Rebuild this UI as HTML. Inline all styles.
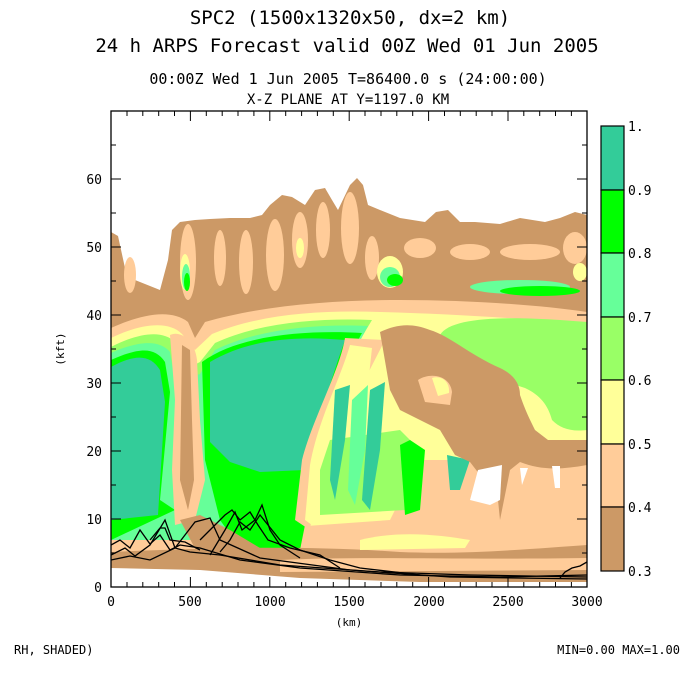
<!DOCTYPE html>
<html><head><meta charset="utf-8"><style>
body{margin:0;background:#fff;width:700px;height:700px;overflow:hidden}
svg{display:block}
text{font-family:"DejaVu Sans Mono","Liberation Mono",monospace;fill:#000}
</style></head><body>
<svg width="700" height="700" viewBox="0 0 700 700" xmlns="http://www.w3.org/2000/svg">
<defs><clipPath id="pc"><rect x="111" y="111" width="476" height="476"/></clipPath></defs>
<text x="350" y="24" font-size="19" text-anchor="middle">SPC2 (1500x1320x50, dx=2 km)</text>
<text x="347" y="52" font-size="19" text-anchor="middle">24 h ARPS Forecast valid 00Z Wed 01 Jun 2005</text>
<text x="348" y="84" font-size="15" text-anchor="middle">00:00Z Wed  1 Jun 2005    T=86400.0 s (24:00:00)</text>
<text x="348" y="104" font-size="14" text-anchor="middle">X-Z PLANE AT Y=1197.0 KM</text>
<g clip-path="url(#pc)">
<path fill="#cc9966" d="M111,232 L118,236 L125,268 L135,280 L160,290 L168,260 L172,230 L180,222 L195,220 L210,219 L230,218 L250,218 L262,215 L270,205 L282,195 L292,197 L305,205 L315,190 L325,188 L332,200 L338,210 L350,185 L357,178 L363,185 L368,205 L380,210 L400,218 L425,222 L436,212 L448,210 L460,222 L475,222 L500,224 L520,218 L545,222 L560,218 L575,212 L587,215 L587,587 L111,587 Z"/>
<g fill="#ffcc99">
<ellipse cx="188" cy="262" rx="8" ry="38"/><ellipse cx="220" cy="258" rx="6" ry="28"/><ellipse cx="246" cy="262" rx="7" ry="32"/>
<ellipse cx="275" cy="255" rx="9" ry="36"/><ellipse cx="300" cy="240" rx="8" ry="28"/><ellipse cx="323" cy="230" rx="7" ry="28"/>
<ellipse cx="350" cy="228" rx="9" ry="36"/><ellipse cx="372" cy="258" rx="7" ry="22"/><ellipse cx="130" cy="275" rx="6" ry="18"/>
<ellipse cx="420" cy="248" rx="16" ry="10"/><ellipse cx="470" cy="252" rx="20" ry="8"/><ellipse cx="530" cy="252" rx="30" ry="8"/><ellipse cx="575" cy="248" rx="12" ry="16"/>
</g>
<g fill="#ffff99"><ellipse cx="185" cy="272" rx="5" ry="18"/><ellipse cx="300" cy="248" rx="4" ry="10"/><ellipse cx="390" cy="272" rx="13" ry="16"/><ellipse cx="580" cy="272" rx="7" ry="9"/></g>
<g fill="#66ff99"><ellipse cx="186" cy="277" rx="4" ry="13"/><ellipse cx="390" cy="277" rx="10" ry="10"/><ellipse cx="520" cy="287" rx="50" ry="7"/></g>
<g fill="#00ff00"><ellipse cx="187" cy="282" rx="3" ry="9"/><ellipse cx="395" cy="280" rx="8" ry="6"/><ellipse cx="540" cy="291" rx="40" ry="5"/></g>
<!-- main band -->
<path fill="#ffcc99" d="M111,328 C140,315 170,308 188,322 L195,338 L205,322 C260,306 330,300 400,300 C470,300 540,305 587,312 L587,560 L111,565 Z"/>
<path fill="#ffff99" d="M111,338 C140,324 168,320 182,334 L195,350 L212,334 C260,314 320,310 380,312 C460,314 540,320 587,324 L587,460 L420,460 L390,520 L111,540 Z"/>
<path fill="#99ff66" d="M111,347 C140,332 163,330 175,342 L180,372 L200,362 L215,343 C260,322 320,318 372,320 L360,340 L300,480 L111,530 Z"/>
<path fill="#99ff66" d="M440,335 C450,318 500,316 560,320 L587,322 L587,430 C570,432 560,428 552,420 C548,405 540,395 525,388 L500,380 L470,362 L445,352 Z"/>
<path fill="#66ff99" d="M111,353 C140,340 160,340 170,352 L175,382 L200,374 L215,350 C260,328 320,324 368,326 L355,350 L330,420 L320,470 L300,540 L111,540 Z"/>
<path fill="#00ff00" d="M111,360 C140,347 155,347 165,362 L170,392 L160,500 L175,510 L111,540 Z"/>
<path fill="#00ff00" d="M202,362 C240,334 310,330 362,333 L350,355 L335,400 L325,460 L310,500 L300,550 L240,548 L220,520 L205,460 Z"/>
<path fill="#33cc99" d="M111,367 C135,354 150,354 160,370 L165,402 L158,515 L111,520 Z"/>
<path fill="#33cc99" d="M210,362 C250,338 300,336 345,340 L338,360 L325,400 L315,440 L305,470 L260,472 L230,462 L210,442 Z"/>
<path fill="#ffcc99" d="M170,335 C180,330 195,340 197,360 L200,420 L205,480 L195,520 L175,525 L172,470 L175,400 Z"/>
<path fill="#cc9966" d="M182,345 L190,350 L192,420 L194,480 L188,510 L180,480 Z"/>
<path fill="#ffcc99" d="M345,338 C340,370 312,420 302,460 L295,520 L310,530 L318,470 L340,420 L362,385 L385,340 Z"/>
<path fill="#ffff99" d="M350,345 C340,380 318,420 310,465 L305,520 L312,525 L322,470 L345,420 L368,385 L372,348 Z"/>
<path fill="#99ff66" d="M320,470 L330,440 L400,430 L420,450 L405,510 L320,515 Z"/>
<path fill="#33cc99" d="M335,390 L350,385 L345,440 L335,500 L330,480 Z"/>
<path fill="#66ff99" d="M352,400 L368,385 L365,450 L355,505 L348,490 Z"/>
<path fill="#33cc99" d="M370,390 L385,382 L380,450 L370,510 L362,500 Z"/>
<path fill="#00ff00" d="M400,445 L410,440 L425,450 L420,510 L405,515 Z"/>
<path fill="#33cc99" d="M447,455 L470,460 L460,490 L450,490 Z"/>
<path fill="#cc9966" d="M380,332 C395,325 410,322 430,330 C450,336 470,355 500,368 C515,375 520,385 520,395 C525,410 530,420 535,430 L548,440 C560,440 575,440 587,440 L587,465 C560,470 540,470 520,462 L510,470 L500,520 L495,470 L480,475 L470,462 L455,455 L440,430 L420,420 L400,410 L390,390 Z"/>
<path fill="#ffcc99" d="M418,380 C430,372 450,375 452,392 L450,405 L425,402 Z"/>
<path fill="#ffff99" d="M432,378 C442,375 450,382 449,393 L438,396 Z"/>
<path fill="#fff" d="M478,470 L502,465 L500,500 L490,505 L470,500 Z"/>
<path fill="#fff" d="M520,468 L528,468 L522,485 Z"/>
<path fill="#fff" d="M552,466 L560,466 L560,488 L555,488 Z"/>
<path fill="#cc9966" d="M111,552 C200,548 300,545 400,552 C470,555 540,548 587,545 L587,587 L111,587 Z"/>
<path fill="#ffcc99" d="M280,560 C360,556 450,560 587,558 L587,570 L280,572 Z"/>
<path fill="#ffff99" d="M360,540 C400,530 440,535 470,540 L465,548 L360,550 Z"/>
<path fill="#cc9966" d="M180,520 L200,515 L230,530 L260,548 L240,562 L200,558 Z"/>
<path fill="#fff" d="M111,568 L200,570 L300,578 L420,582 L587,582 L587,587 L111,587 Z"/>
<g fill="none" stroke="#000" stroke-width="1.3">
<path d="M111,545 L120,540 L130,548 L140,530 L150,544 L160,535 L170,550 L180,545 L200,548 L240,560 L300,568 L400,575 L500,577 L587,575"/>
<path d="M111,555 L125,548 L135,556 L150,545 L165,520 L175,548 L190,552 L220,555 L280,565 L380,572 L470,575 L587,577"/>
<path d="M111,560 L130,556 L150,560 L175,548 L195,522 L210,518 L220,540 L260,558 L350,570 L450,577 L587,579"/>
<path d="M200,540 L215,525 L225,515 L232,510 L240,520 L250,512 L258,525 L268,540 L290,548 L320,555 L340,568"/>
<path d="M210,555 L225,530 L235,512 L242,530 L255,520 L262,505 L270,530 L280,545 L300,558"/>
<path d="M220,552 L230,540 L240,522 L250,530 L260,515 L280,540 L300,550 L330,560 L360,568 L420,575"/>
<path d="M150,540 L160,528 L165,528 L170,540 L185,542 L200,550"/>
<path d="M560,578 L565,572 L572,568 L580,566 L587,562"/>
</g>
</g>
<rect x="111" y="111" width="476" height="476" fill="none" stroke="#000" stroke-width="1.3"/>
<g stroke="#000" stroke-width="1">
<path d="M111,587v-10M190.4,587v-10M269.8,587v-10M349.2,587v-10M428.6,587v-10M508,587v-10M587,587v-10M111,111v10M190.4,111v10M269.8,111v10M349.2,111v10M428.6,111v10M508,111v10
M127,587v-5M142.8,587v-5M158.7,587v-5M174.5,587v-5M206.3,587v-5M222.2,587v-5M238,587v-5M253.9,587v-5M285.7,587v-5M301.6,587v-5M317.4,587v-5M333.3,587v-5M365,587v-5M381,587v-5M396.8,587v-5M412.7,587v-5M444.5,587v-5M460.3,587v-5M476.2,587v-5M492,587v-5M523.8,587v-5M539.7,587v-5M555.5,587v-5M571.4,587v-5
M127,111v5M142.8,111v5M158.7,111v5M174.5,111v5M206.3,111v5M222.2,111v5M238,111v5M253.9,111v5M285.7,111v5M301.6,111v5M317.4,111v5M333.3,111v5M365,111v5M381,111v5M396.8,111v5M412.7,111v5M444.5,111v5M460.3,111v5M476.2,111v5M492,111v5M523.8,111v5M539.7,111v5M555.5,111v5M571.4,111v5
M111,587h10M111,519h10M111,451h10M111,383h10M111,315h10M111,247h10M111,179h10M587,519h-10M587,451h-10M587,383h-10M587,315h-10M587,247h-10M587,179h-10
M111,553h5M111,485h5M111,417h5M111,349h5M111,281h5M111,213h5M111,145h5M587,553h-5M587,485h-5M587,417h-5M587,349h-5M587,281h-5M587,213h-5M587,145h-5"/>
</g>
<g font-size="13" text-anchor="middle">
<text x="111" y="606">0</text><text x="190" y="606">500</text><text x="270" y="606">1000</text><text x="349" y="606">1500</text><text x="429" y="606">2000</text><text x="508" y="606">2500</text><text x="587" y="606">3000</text>
</g>
<g font-size="13" text-anchor="end">
<text x="102" y="592">0</text><text x="102" y="524">10</text><text x="102" y="456">20</text><text x="102" y="388">30</text><text x="102" y="320">40</text><text x="102" y="252">50</text><text x="102" y="184">60</text>
</g>
<text x="349" y="626" font-size="11" text-anchor="middle">(km)</text>
<text x="64" y="349" font-size="11" text-anchor="middle" transform="rotate(-90 64 349)">(kft)</text>
<g stroke="#000" stroke-width="1.2">
<rect x="601" y="126" width="23" height="64" fill="#33cc99"/>
<rect x="601" y="190" width="23" height="63" fill="#00ff00"/>
<rect x="601" y="253" width="23" height="64" fill="#66ff99"/>
<rect x="601" y="317" width="23" height="63" fill="#99ff66"/>
<rect x="601" y="380" width="23" height="64" fill="#ffff99"/>
<rect x="601" y="444" width="23" height="63" fill="#ffcc99"/>
<rect x="601" y="507" width="23" height="64" fill="#cc9966"/>
</g>
<g font-size="13">
<text x="628" y="131">1.</text><text x="628" y="195">0.9</text><text x="628" y="258">0.8</text><text x="628" y="322">0.7</text><text x="628" y="385">0.6</text><text x="628" y="449">0.5</text><text x="628" y="512">0.4</text><text x="628" y="576">0.3</text>
</g>
<text x="14" y="654" font-size="12">RH, SHADED)</text>
<text x="680" y="654" font-size="12" text-anchor="end">MIN=0.00 MAX=1.00</text>
</svg>
</body></html>
